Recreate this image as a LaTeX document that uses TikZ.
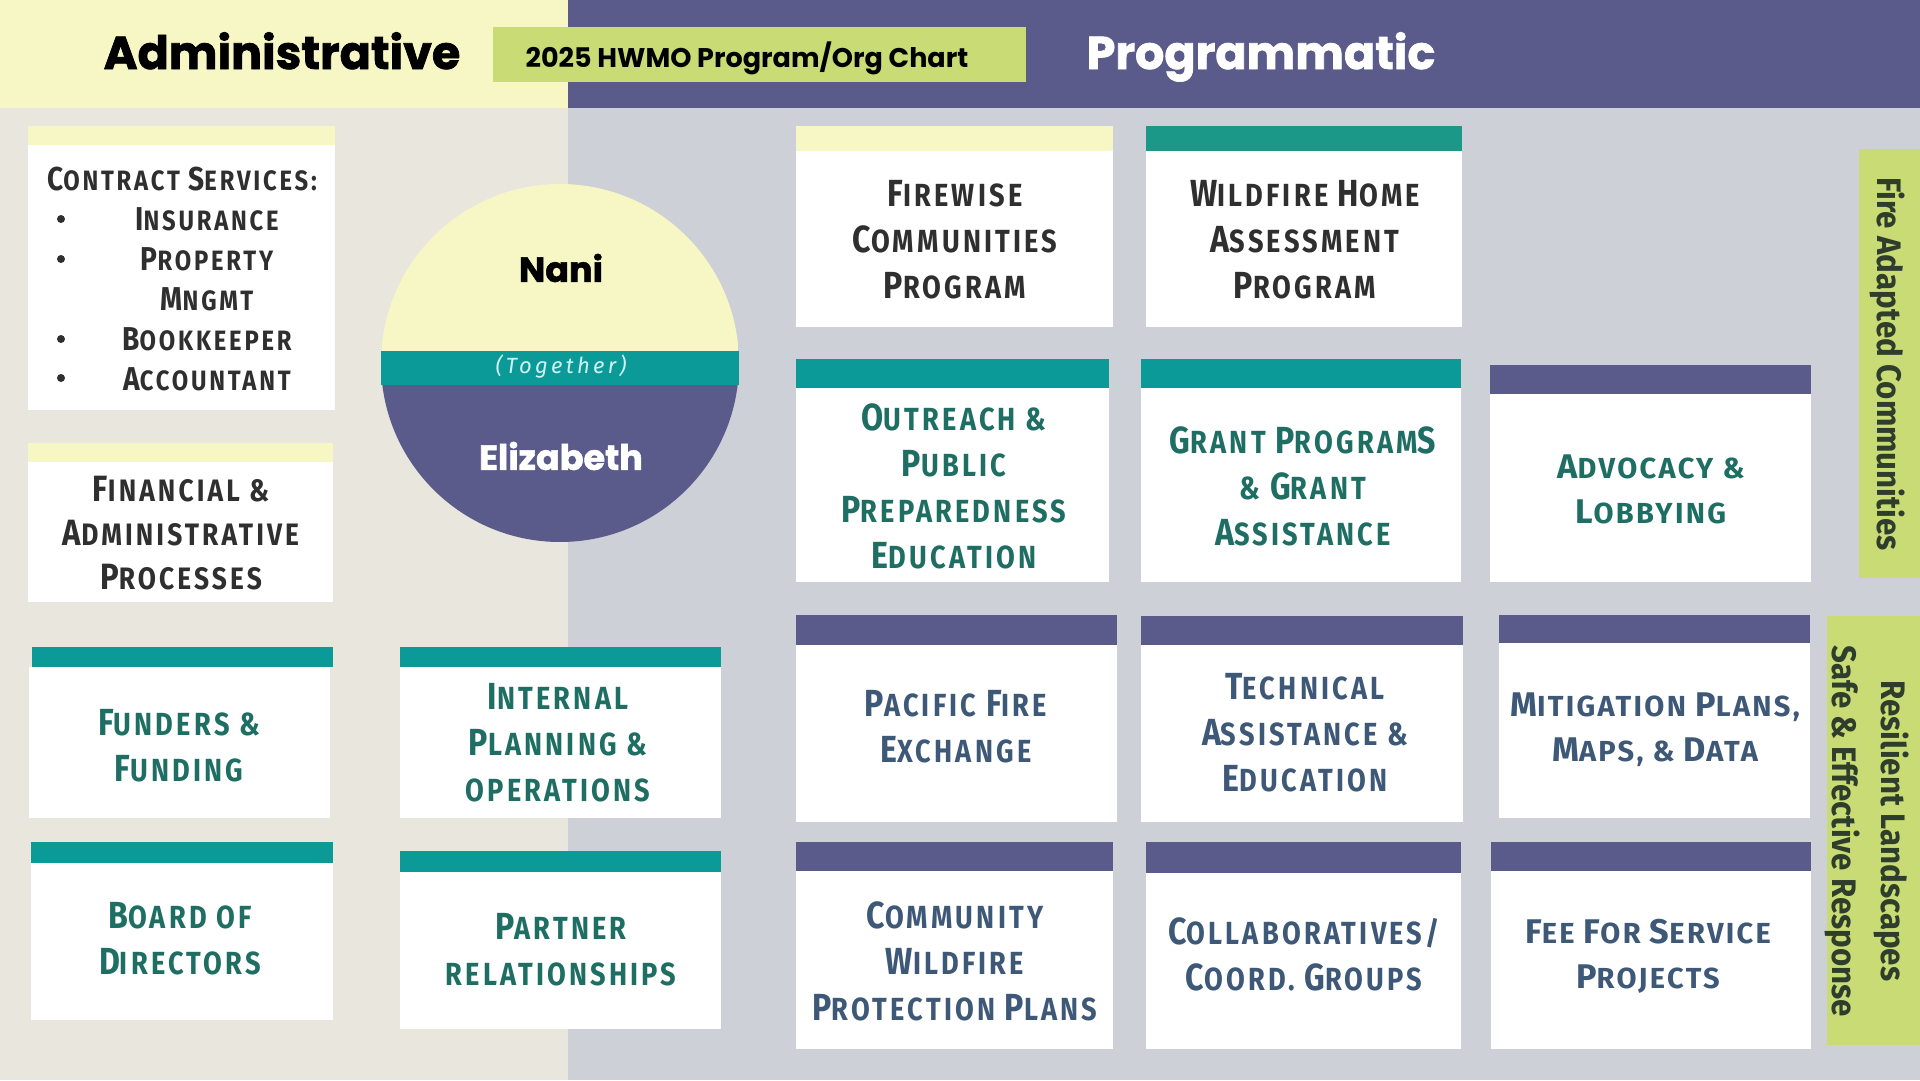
\documentclass[tikz,border=0pt]{standalone}
\usepackage{fontspec}
\usepackage{graphicx}
\setmainfont{Fira Sans}
\newfontfamily\headfont{Poppins}[BoldFeatures={FakeBold=1.5}]
\newfontfamily\cardfont[FakeStretch=0.85,LetterSpace=10]{Fira Sans}
\newfontfamily\widefont[LetterSpace=8]{Fira Sans}
\newfontfamily\sidefont[FakeStretch=0.92]{Fira Sans}
\newfontfamily\togfont[LetterSpace=15]{Fira Sans}
\newfontfamily\titlefont{Poppins}
\definecolor{paleyellow}{HTML}{F7F6C5}
\definecolor{hwpurple}{HTML}{5B5B8B}
\definecolor{hwteal}{HTML}{0C9A98}
\definecolor{hwgreenteal}{HTML}{1B9887}
\definecolor{hwlime}{HTML}{C9DB74}
\definecolor{beige}{HTML}{E9E6DD}
\definecolor{slategray}{HTML}{CDD0D7}
\definecolor{tealtxt}{HTML}{1F6E64}
\definecolor{slatetxt}{HTML}{3E5877}
\definecolor{darktxt}{HTML}{2F2F2F}
\definecolor{sidetxt}{HTML}{2F3D2C}
\definecolor{togtxt}{HTML}{CFF3F2}
\newcommand\ini[1]{\scalebox{1.18}{#1}}

\begin{document}
\begin{tikzpicture}[x=1pt,y=-1pt,
    cardtxt/.style={font=\cardfont\bfseries\fontsize{32}{46}\selectfont,align=center,inner sep=0},
    widetxt/.style={font=\widefont\bfseries\fontsize{29}{45}\selectfont,align=center,inner sep=0},
    headtxt/.style={font=\headfont\bfseries\fontsize{46}{50}\selectfont,inner sep=0,anchor=base},
    sidetxt/.style={font=\sidefont\bfseries\fontsize{34}{49}\selectfont,text=sidetxt,align=center,rotate=-90,inner sep=0}]
    \useasboundingbox (0,0) rectangle (1920,1080);
    % background halves
    \fill[beige] (0,0) rectangle (568,1080);
    \fill[slategray] (568,0) rectangle (1920,1080);
    \fill[paleyellow] (0,0) rectangle (568,108);
    \fill[hwpurple] (568,0) rectangle (1920,108);
    \fill[hwlime] (493,27) rectangle (1026,82);
    \node[headtxt] (admin) at (282,69) {Administrative};
    \node[headtxt,text=white] (prog) at (1261,69) {Programmatic};
    \node[font=\titlefont\bfseries\fontsize{27}{30}\selectfont,inner sep=0] (title) at (747,58) {2025 HWMO Program/Org Chart};
    % the two leads
    \begin{scope}
        \clip (560,363) circle (179);
        \fill[paleyellow] (381,184) rectangle (739,351);
        \fill[hwpurple] (381,385) rectangle (739,542);
    \end{scope}
    \fill[hwteal] (381,351) rectangle (739,385);
    \node[font=\headfont\bfseries\fontsize{35}{40}\selectfont] (nani) at (561,268) {Nani};
    \node[font=\togfont\itshape\fontsize{22}{24}\selectfont,text=togtxt] (together) at (561,367) {(Together)};
    \node[font=\headfont\bfseries\fontsize{35}{40}\selectfont,text=white] (elizabeth) at (561,456) {Elizabeth};
    % administrative cards
    \fill[white] (28,126) rectangle (335,410);
    \fill[paleyellow] (28,126) rectangle (335,145);
    \node[cardtxt,text=darktxt,font=\cardfont\bfseries\fontsize{28}{40}\selectfont] (contract) at (182,179) {\ini{C}ONTRACT \ini{S}ERVICES:};
    \node[cardtxt,text=darktxt,font=\cardfont\bfseries\fontsize{28}{40}\selectfont] (services) at (207,299) {\ini{I}NSURANCE\\\ini{P}ROPERTY\\\ini{M}NGMT\\\ini{B}OOKKEEPER\\\ini{A}CCOUNTANT};
    \fill[darktxt] (61,219) circle (4);
    \fill[darktxt] (61,259) circle (4);
    \fill[darktxt] (61,339) circle (4);
    \fill[darktxt] (61,378) circle (4);
    \fill[white] (28,443) rectangle (333,602);
    \fill[paleyellow] (28,443) rectangle (333,462);
    \node[cardtxt,text=darktxt,font=\cardfont\bfseries\fontsize{31}{44}\selectfont] (financial) at (181,533) {\ini{F}INANCIAL \&\\\ini{A}DMINISTRATIVE\\\ini{P}ROCESSES};
    \fill[white] (29,667) rectangle (330,818);
    \fill[hwteal] (32,647) rectangle (333,667);
    \node[cardtxt,text=tealtxt] (funders) at (179,746) {\ini{F}UNDERS \&\\\ini{F}UNDING};
    \fill[white] (31,863) rectangle (333,1020);
    \fill[hwteal] (31,842) rectangle (333,863);
    \node[cardtxt,text=tealtxt] (board) at (180,939) {\ini{B}OARD OF\\\ini{D}IRECTORS};
    \fill[white] (400,667) rectangle (721,818);
    \fill[hwteal] (400,647) rectangle (721,667);
    \node[cardtxt,text=tealtxt] (internal) at (558,743) {\ini{I}NTERNAL\\\ini{P}LANNING \&\\OPERATIONS};
    \fill[white] (400,872) rectangle (721,1029);
    \fill[hwteal] (400,851) rectangle (721,872);
    \node[cardtxt,text=tealtxt] (partner) at (561,950) {\ini{P}ARTNER\\RELATIONSHIPS};
    % programmatic cards
    \fill[white] (796,126) rectangle (1113,327);
    \fill[paleyellow] (796,126) rectangle (1113,151);
    \node[cardtxt,text=darktxt] (firewise) at (955,240) {\ini{F}IREWISE\\\ini{C}OMMUNITIES\\\ini{P}ROGRAM};
    \fill[white] (1146,126) rectangle (1462,327);
    \fill[hwgreenteal] (1146,126) rectangle (1462,151);
    \node[cardtxt,text=darktxt] (wildfire) at (1305,240) {\ini{W}ILDFIRE \ini{H}OME\\\ini{A}SSESSMENT\\\ini{P}ROGRAM};
    \fill[white] (796,359) rectangle (1109,582);
    \fill[hwteal] (796,359) rectangle (1109,388);
    \node[cardtxt,text=tealtxt] (outreach) at (954,486) {\ini{O}UTREACH \&\\\ini{P}UBLIC\\\ini{P}REPAREDNESS\\\ini{E}DUCATION};
    \fill[white] (1141,359) rectangle (1461,582);
    \fill[hwteal] (1141,359) rectangle (1461,388);
    \node[cardtxt,text=tealtxt] (grant) at (1303,486) {\ini{G}RANT \ini{P}ROGRAM\ini{S}\\\& \ini{G}RANT\\\ini{A}SSISTANCE};
    \fill[white] (1490,365) rectangle (1811,582);
    \fill[hwpurple] (1490,365) rectangle (1811,394);
    \node[widetxt,text=tealtxt] (advocacy) at (1651,489) {\ini{A}DVOCACY \&\\\ini{L}OBBYING};
    \fill[white] (796,615) rectangle (1117,822);
    \fill[hwpurple] (796,615) rectangle (1117,645);
    \node[cardtxt,text=slatetxt] (pacific) at (956,727) {\ini{P}ACIFIC \ini{F}IRE\\\ini{E}XCHANGE};
    \fill[white] (1141,616) rectangle (1463,822);
    \fill[hwpurple] (1141,616) rectangle (1463,645);
    \node[cardtxt,text=slatetxt] (technical) at (1305,733) {\ini{T}ECHNICAL\\\ini{A}SSISTANCE \&\\\ini{E}DUCATION};
    \fill[white] (1499,615) rectangle (1810,818);
    \fill[hwpurple] (1499,615) rectangle (1810,643);
    \node[widetxt,text=slatetxt] (mitigation) at (1655,730) {\ini{M}ITIGATION \ini{P}LANS,\\\ini{M}APS, \& \ini{D}ATA};
    \fill[white] (796,842) rectangle (1113,1049);
    \fill[hwpurple] (796,842) rectangle (1113,871);
    \node[cardtxt,text=slatetxt] (community) at (955,961) {\ini{C}OMMUNITY\\\ini{W}ILDFIRE\\\ini{P}ROTECTION \ini{P}LANS};
    \fill[white] (1146,842) rectangle (1461,1049);
    \fill[hwpurple] (1146,842) rectangle (1461,873);
    \node[cardtxt,text=slatetxt] (collab) at (1304,954) {\ini{C}OLLABORATIVES/\\\ini{C}OORD. \ini{G}ROUPS};
    \fill[white] (1491,842) rectangle (1811,1049);
    \fill[hwpurple] (1491,842) rectangle (1811,871);
    \node[widetxt,text=slatetxt] (fee) at (1648,956) {\ini{F}EE \ini{F}OR \ini{S}ERVICE\\\ini{P}ROJECTS};
    % side goals
    \fill[hwlime] (1859,149) rectangle (1920,578);
    \node[sidetxt] (fac) at (1887,364) {Fire Adapted Communities};
    \fill[hwlime] (1827,616) rectangle (1920,1045);
    \node[sidetxt] (rl) at (1867,831) {Resilient Landscapes\\Safe \& Effective Response};
\end{tikzpicture}
\end{document}
